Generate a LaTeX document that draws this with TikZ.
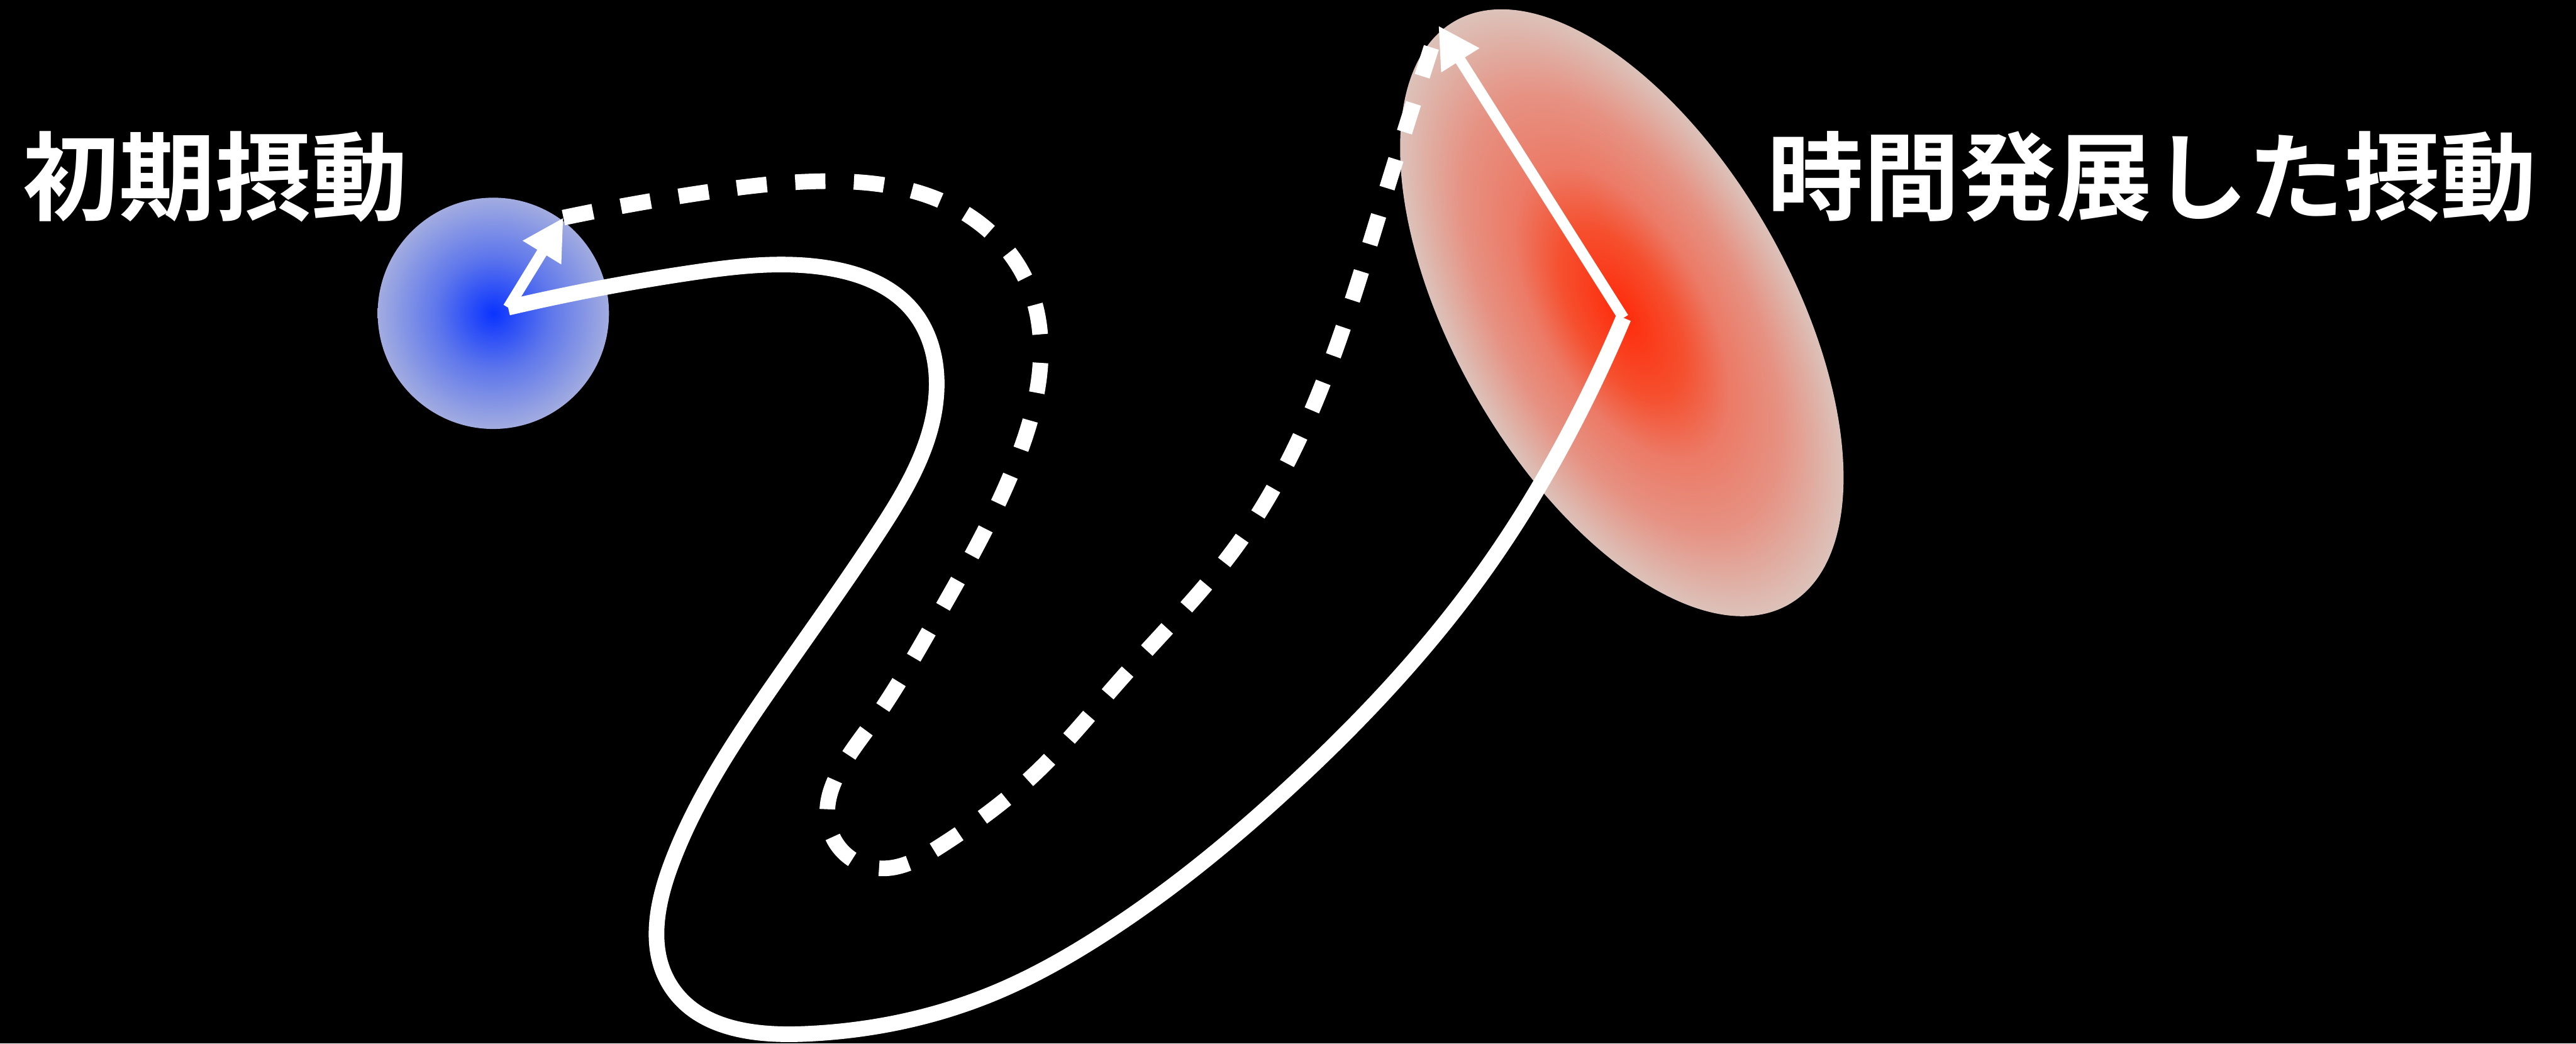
\documentclass[tikz,border=0pt]{standalone}
\usepackage{fontspec}
\newfontfamily\jpfont{Noto Sans CJK JP}[BoldFont={* Bold}]
\usetikzlibrary{arrows.meta,hobby}
\definecolor{pertbg}{HTML}{000000}
\definecolor{pertblue}{HTML}{0A33FF}
\definecolor{pertbluemid}{HTML}{5C75EC}
\definecolor{pertblueedge}{HTML}{A2ACE0}
\definecolor{pertred}{HTML}{FF2A0A}
\definecolor{pertredhot}{HTML}{F5502F}
\definecolor{pertredmid}{HTML}{EC7A66}
\definecolor{pertsalmon}{HTML}{E69283}
\definecolor{pertrededge}{HTML}{DCC2BA}
\pgfdeclareradialshading{initblob}{\pgfpoint{0bp}{0bp}}{color(0bp)=(pertblue); color(12bp)=(pertbluemid); color(25bp)=(pertblueedge); color(50bp)=(pertblueedge)}
\pgfdeclareradialshading{finalblob}{\pgfpoint{0bp}{0bp}}{color(0bp)=(pertred); color(7bp)=(pertredhot); color(12bp)=(pertredmid); color(18bp)=(pertsalmon); color(25bp)=(pertrededge); color(50bp)=(pertrededge)}

\begin{document}
\begin{tikzpicture}[>={Triangle[length=7.2mm,width=7.4mm]},
  flow/.style={white, line width=7.8pt, use Hobby shortcut},
  vec/.style={->, white, line width=5.4pt},
  lbl/.style={text=white, inner sep=0pt, font=\jpfont\bfseries\fontsize{48}{58}\selectfont}]
  \useasboundingbox (0,0) rectangle (45.22,-18.32);
  \fill[pertbg] (0,0) rectangle (45.22,-18.32);
  \node[circle, minimum size=4.06cm, inner sep=0pt, shading=initblob] (init) at (8.66,-5.50) {};
  \coordinate (final) at (28.47,-5.49);
  \begin{scope}[transform canvas={shift={(final)}, rotate=-60.2}]
    \shade[shading=finalblob] (0,0) ellipse [x radius=5.90, y radius=2.95];
  \end{scope}
  \coordinate (s0) at (8.92,-5.40);
  \coordinate (s1) at (28.50,-5.58);
  \coordinate (tip0) at (9.89,-3.82);
  \coordinate (tip1) at (25.25,-0.45);
  \draw[flow] (s0) .. (12.12,-4.79) .. (14.50,-4.70) .. (16.02,-5.45) .. (16.44,-6.87) .. (15.42,-9.35) .. (13.57,-12.03) .. (11.78,-15.18) .. (11.78,-17.32) .. (14.10,-18.15) .. (17.43,-17.44) .. (19.32,-16.43) .. (22.70,-13.76) .. (26.00,-10.10) .. (27.80,-7.10) .. (s1);
  \draw[flow, dash pattern=on 0.53cm off 0.5cm] (tip0) .. (12.42,-3.37) .. (14.52,-3.18) .. (16.62,-3.57) .. (18.05,-5.00) .. (18.27,-6.09) .. (17.82,-8.15) .. (16.36,-10.99) .. (15.23,-12.80) .. (14.58,-14.60) .. (15.41,-15.24) .. (16.51,-14.85) .. (18.17,-13.58) .. (19.66,-11.94) .. (21.71,-9.58) .. (23.21,-6.76) .. (24.22,-3.72) .. (tip1);
  \draw[vec] (s0) -- (tip0);
  \draw[vec] (s1) -- (tip1);
  \node[lbl] (lblinit) at (3.78,-3.10) {初期摂動};
  \node[lbl] (lblfinal) at (37.78,-3.10) {時間発展した摂動};
\end{tikzpicture}
\end{document}
